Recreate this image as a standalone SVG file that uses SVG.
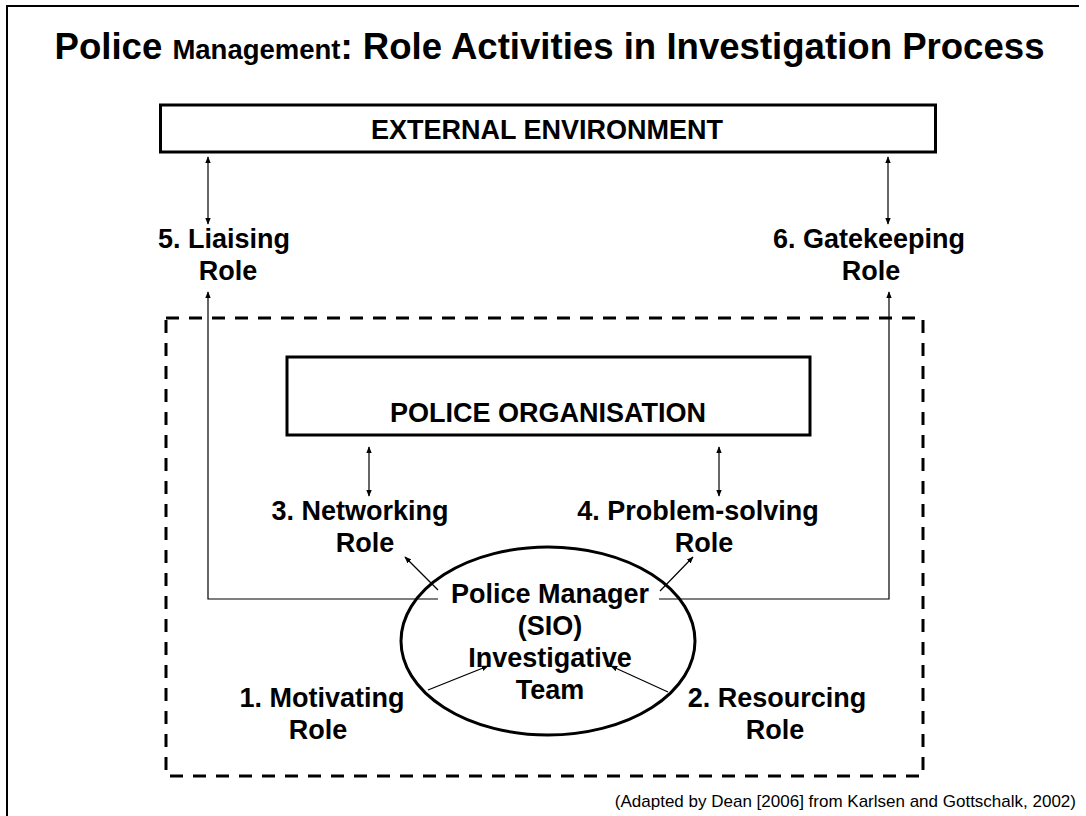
<svg xmlns="http://www.w3.org/2000/svg" width="1086" height="816" viewBox="0 0 1086 816">
<defs>
<style>
.t{font-family:"Liberation Sans",Arial,sans-serif;font-weight:bold;fill:#000}
.lbl{font-size:27px;text-anchor:middle}
.box{fill:#fff;stroke:#000;stroke-width:3}
.con{fill:none;stroke:#000;stroke-width:1.2}
.cap{font-family:"Liberation Sans",Arial,sans-serif;font-size:17px;fill:#000;text-anchor:end}
</style>
<marker id="ah" viewBox="0 0 10 10" refX="9" refY="5" markerWidth="7" markerHeight="7" markerUnits="userSpaceOnUse" orient="auto-start-reverse">
<path d="M0,1 L10,5 L0,9 z" fill="#000"/>
</marker>
</defs>
<rect width="1086" height="816" fill="#fff"/>
<path d="M7,816 V6 H1079" fill="none" stroke="#000" stroke-width="2"/>
<text class="t" x="549.5" y="59" text-anchor="middle" font-size="36.6">Police <tspan font-size="27.5">Management</tspan>: Role Activities in Investigation Process</text>

<g id="boundary">
<rect x="166" y="318" width="757" height="458" fill="none" stroke="#000" stroke-width="3" stroke-dasharray="13,10"/>
</g>

<g id="external">
<rect class="box" x="160.5" y="105" width="775" height="47"/>
<text class="t lbl" x="547" y="139">EXTERNAL ENVIRONMENT</text>
</g>

<g id="police-org">
<rect class="box" x="287" y="357" width="523" height="78"/>
<text class="t lbl" x="548" y="422">POLICE ORGANISATION</text>
</g>

<g id="manager">
<ellipse cx="548" cy="641" rx="147" ry="94" fill="#fff" stroke="#000" stroke-width="3"/>
<text class="t lbl" x="550" y="603">Police Manager</text>
<text class="t lbl" x="550" y="635">(SIO)</text>
<text class="t lbl" x="550" y="667">Investigative</text>
<text class="t lbl" x="550" y="699">Team</text>
</g>

<g id="role1"><text class="t lbl" x="322" y="707">1. Motivating</text><text class="t lbl" x="318" y="739">Role</text></g>
<g id="role2"><text class="t lbl" x="777" y="707">2. Resourcing</text><text class="t lbl" x="775" y="739">Role</text></g>
<g id="role3"><text class="t lbl" x="360" y="520">3. Networking</text><text class="t lbl" x="365" y="552">Role</text></g>
<g id="role4"><text class="t lbl" x="698" y="520">4. Problem-solving</text><text class="t lbl" x="704" y="552">Role</text></g>
<g id="role5"><text class="t lbl" x="224" y="248">5. Liaising</text><text class="t lbl" x="228" y="280">Role</text></g>
<g id="role6"><text class="t lbl" x="869" y="248">6. Gatekeeping</text><text class="t lbl" x="871" y="280">Role</text></g>

<g id="connectors">
<line class="con" x1="208" y1="157" x2="208" y2="224" marker-start="url(#ah)" marker-end="url(#ah)"/>
<line class="con" x1="888" y1="157" x2="888" y2="224" marker-start="url(#ah)" marker-end="url(#ah)"/>
<line class="con" x1="369" y1="447" x2="369" y2="496" marker-start="url(#ah)" marker-end="url(#ah)"/>
<line class="con" x1="719" y1="447" x2="719" y2="496" marker-start="url(#ah)" marker-end="url(#ah)"/>
<polyline class="con" points="438,599 208,599 208,292" marker-end="url(#ah)"/>
<polyline class="con" points="659,599 889,599 889,292" marker-end="url(#ah)"/>
<line class="con" x1="438" y1="590" x2="405" y2="557" marker-end="url(#ah)"/>
<line class="con" x1="660" y1="591" x2="693" y2="557" marker-end="url(#ah)"/>
<line class="con" x1="428" y1="690" x2="488" y2="666" marker-end="url(#ah)"/>
<line class="con" x1="668" y1="692" x2="611" y2="666" marker-end="url(#ah)"/>
</g>
<text class="cap" x="1076" y="807">(Adapted by Dean [2006] from Karlsen and Gottschalk, 2002)</text>
</svg>
